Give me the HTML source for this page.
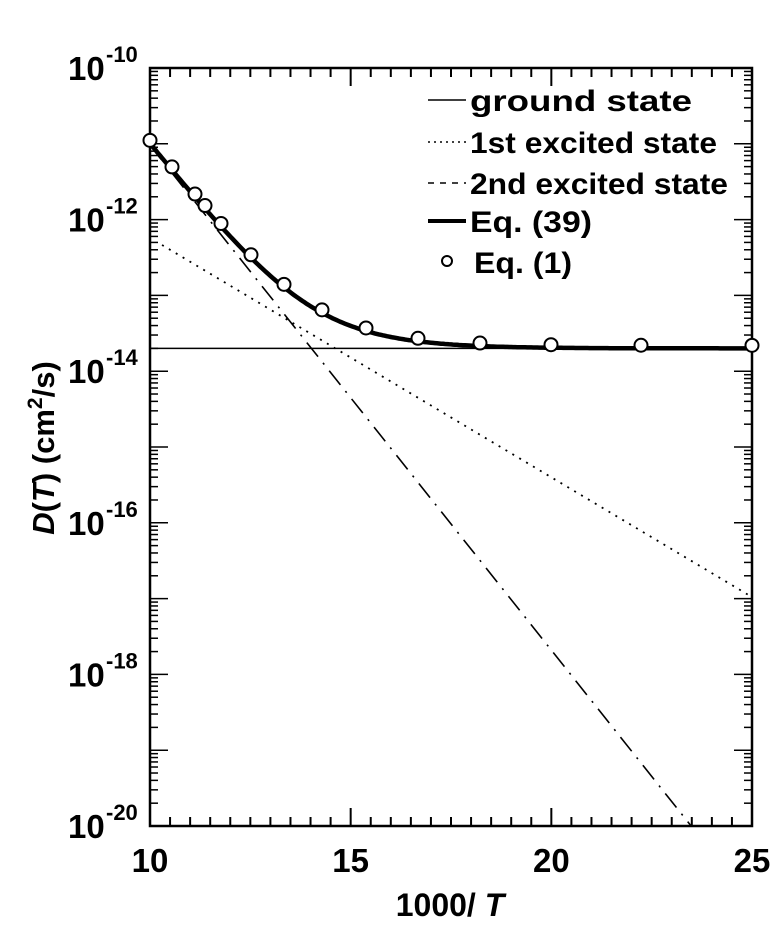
<!DOCTYPE html>
<html><head><meta charset="utf-8"><style>
html,body{margin:0;padding:0;background:#fff;}
svg text{font-family:"Liberation Sans",Arial,sans-serif;fill:#000;}
</style></head><body>
<svg id="s" width="772" height="923" xmlns="http://www.w3.org/2000/svg"></svg>
<script>
const s=document.getElementById('s');
const L=150,R=752,T=68,B=826;
const X=x=>L+(x-10)*(R-L)/15;
const Y=lg=>T+(-10-lg)*(B-T)/10;
let h='';
h+=`<rect x="${L}" y="${T}" width="${R-L}" height="${B-T}" fill="none" stroke="#000" stroke-width="2.5"/>`;
for(let i=0;i<=30;i++){const x=X(10+i*0.5);const len=(i%10==0)?18:9;
h+=`<line x1="${x}" y1="${B}" x2="${x}" y2="${B-len}" stroke="#000" stroke-width="2"/>`;
h+=`<line x1="${x}" y1="${T}" x2="${x}" y2="${T+len}" stroke="#000" stroke-width="2"/>`;}
for(let d=-20;d<-10;d++){for(let m=1;m<=9;m++){const y=Y(d+Math.log10(m));const len=(m==1)?18:8;
h+=`<line x1="${L}" y1="${y}" x2="${L+len}" y2="${y}" stroke="#000" stroke-width="1.5"/>`;
h+=`<line x1="${R}" y1="${y}" x2="${R-len}" y2="${y}" stroke="#000" stroke-width="1.5"/>`;}}
for(let d=-20;d<=-10;d+=2){const y=Y(d);
h+=`<text x="68" y="${y+12}" font-size="33" font-weight="bold">10</text><text x="106" y="${y-6}" font-size="22" font-weight="bold">${d}</text>`;}
[10,15,20,25].forEach(v=>{h+=`<text x="${X(v)}" y="872" font-size="33" font-weight="bold" text-anchor="middle">${v}</text>`;});
h+=`<text x="450" y="916" font-size="32" font-weight="bold" text-anchor="middle">1000/ <tspan font-style="italic">T</tspan></text>`;
h+=`<text transform="translate(54,448) rotate(-90)" font-size="31" font-weight="bold" text-anchor="middle"><tspan font-style="italic">D</tspan>(<tspan font-style="italic">T</tspan>) (cm<tspan font-size="21" dy="-12">2</tspan><tspan dy="12">/s)</tspan></text>`;
const g=Math.log10(2e-14);
const e1=x=>-12.24-0.316*(x-10);
const e2=x=>-11.02-0.666*(x-10);
const sum=x=>Math.log10(Math.pow(10,g)+Math.pow(10,e1(x))+Math.pow(10,e2(x)));
h+=`<line x1="${L}" y1="${Y(g)}" x2="${R}" y2="${Y(g)}" stroke="#000" stroke-width="1.5"/>`;
h+=`<line x1="${X(10.3)}" y1="${Y(e1(10.3))}" x2="${R}" y2="${Y(e1(25))}" stroke="#000" stroke-width="1.8" stroke-dasharray="2,6"/>`;
const xe=10+(-20+11.02)/-0.666;
h+=`<line x1="${L}" y1="${Y(e2(10))}" x2="${X(xe)}" y2="${B}" stroke="#000" stroke-width="1.6" stroke-dasharray="18,8,2,8"/>`;
let p='';for(let x=10;x<=25.001;x+=0.05){p+=(p?'L':'M')+X(x).toFixed(1)+','+Y(sum(x)).toFixed(1);}
h+=`<path d="${p}" fill="none" stroke="#000" stroke-width="4.5"/>`;
[150,172,195,205,221,251,284,322,366,418,480,551,641,752].forEach(px=>{const x=10+(px-L)*15/(R-L);
h+=`<circle cx="${px}" cy="${Y(sum(x))-3}" r="6.5" fill="#fff" stroke="#000" stroke-width="2"/>`;});
const ly=[100,142,183,221,262],lab=['ground state','1st excited state','2nd excited state','Eq. (39)','Eq. (1)'];
h+=`<line x1="428" y1="100" x2="466" y2="100" stroke="#000" stroke-width="1.5"/>`;
h+=`<line x1="428" y1="142" x2="466" y2="142" stroke="#000" stroke-width="1.5" stroke-dasharray="2,4"/>`;
h+=`<line x1="428" y1="183" x2="466" y2="183" stroke="#000" stroke-width="1.5" stroke-dasharray="6,6"/>`;
h+=`<line x1="428" y1="221" x2="466" y2="221" stroke="#000" stroke-width="4"/>`;
h+=`<circle cx="447" cy="261" r="5" fill="#fff" stroke="#000" stroke-width="2"/>`;
ly.forEach((y,i)=>{h+=`<text x="${i==4?474:470}" y="${y+11}" font-size="30" font-weight="bold" textLength="${[222,247,258,122,98][i]}" lengthAdjust="spacingAndGlyphs">${lab[i]}</text>`;});
s.innerHTML=h;
</script>
</body></html>
